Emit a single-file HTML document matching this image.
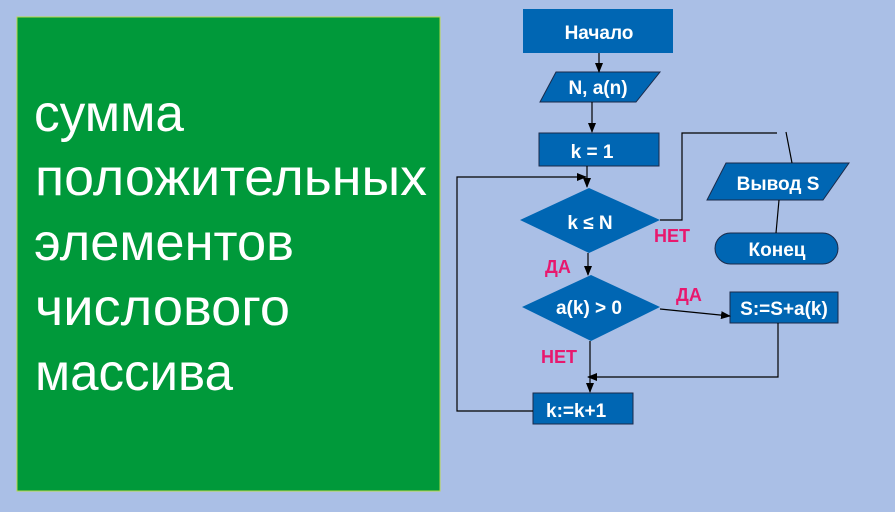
<!DOCTYPE html>
<html><head><meta charset="utf-8"><style>
html,body{margin:0;padding:0;background:#aabfe6;}
svg{display:block}
.w{fill:#fff;font-family:"Liberation Sans","DejaVu Sans",sans-serif;}
.r{fill:#e8186e;font-family:"Liberation Sans","DejaVu Sans",sans-serif;font-size:18px;font-weight:bold;}
</style></head><body>
<svg width="895" height="512" viewBox="0 0 895 512" xmlns="http://www.w3.org/2000/svg">
<defs><marker id="a" markerWidth="10" markerHeight="8" refX="9" refY="4" orient="auto" markerUnits="userSpaceOnUse"><path d="M0,0 L10,4 L0,8 z" fill="#000"/></marker></defs>
<rect width="895" height="512" fill="#aabfe6"/>
<rect x="17" y="17" width="423" height="474" fill="#00993a" stroke="#b8d84a" stroke-width="1"/>
<g class="w" font-size="52">
<text x="34" y="131" textLength="150" lengthAdjust="spacingAndGlyphs">сумма</text>
<text x="35" y="195" textLength="392" lengthAdjust="spacingAndGlyphs">положительных</text>
<text x="34" y="260" textLength="260" lengthAdjust="spacingAndGlyphs">элементов</text>
<text x="35" y="325" textLength="255" lengthAdjust="spacingAndGlyphs">числового</text>
<text x="35" y="390" textLength="198" lengthAdjust="spacingAndGlyphs">массива</text>
</g>
<g fill="#0066b3" stroke="#1a2a4a" stroke-width="1">
<rect x="523" y="9" width="150" height="44" stroke="none"/>
<polygon points="556,72 660,72 636,102 540,102"/>
<rect x="539" y="133" width="120" height="33"/>
<polygon points="520,220 589,188 660,220 589,253" stroke="none"/>
<polygon points="726,163 849,163 823,200 707,200"/>
<rect x="715" y="233" width="123" height="31" rx="15.5"/>
<polygon points="522,307 591,275 660,307 591,341" stroke="none"/>
<rect x="730" y="292" width="108" height="31"/>
<rect x="533" y="393" width="100" height="31"/>
</g>
<g stroke="#000" stroke-width="1.2" fill="none">
<line x1="599" y1="53" x2="599" y2="72" marker-end="url(#a)"/>
<line x1="592" y1="102" x2="592" y2="132" marker-end="url(#a)"/>
<line x1="587" y1="166" x2="587" y2="187" marker-end="url(#a)"/>
<polyline points="533,411 457,411 457,177 586,177" marker-end="url(#a)"/>
<polyline points="660,220 682,220 682,133 777,133"/>
<line x1="786" y1="132" x2="792" y2="163"/>
<line x1="779" y1="200" x2="776" y2="233"/>
<line x1="588" y1="253" x2="588" y2="275" marker-end="url(#a)"/>
<line x1="660" y1="309" x2="730" y2="316" marker-end="url(#a)"/>
<polyline points="778,323 778,377 588,377" marker-end="url(#a)"/>
<line x1="590" y1="341" x2="590" y2="392" marker-end="url(#a)"/>
</g>
<g class="w" font-size="19" font-weight="bold" text-anchor="middle">
<text x="599" y="39">Начало</text>
<text x="598" y="94">N, a(n)</text>
<text x="592" y="158">k = 1</text>
<text x="590" y="229">k ≤ N</text>
<text x="778" y="190">Вывод S</text>
<text x="777" y="256">Конец</text>
<text x="589" y="314">a(k) &gt; 0</text>
<text x="784" y="315">S:=S+a(k)</text>
<text x="546" y="417" text-anchor="start">k:=k+1</text>
</g>
<text class="r" x="654" y="242">НЕТ</text>
<text class="r" x="545" y="273">ДА</text>
<text class="r" x="676" y="301">ДА</text>
<text class="r" x="541" y="363">НЕТ</text>
</svg>
</body></html>
